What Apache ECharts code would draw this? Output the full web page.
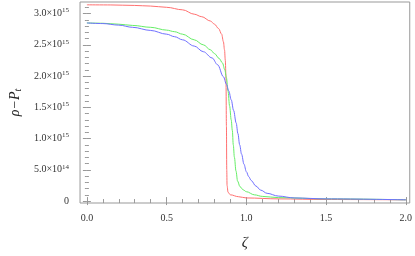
<!DOCTYPE html>
<html>
<head>
<meta charset="utf-8">
<script src="https://cdn.jsdelivr.net/npm/echarts@6/dist/echarts.min.js"></script>
<style>html,body{margin:0;padding:0;background:#fff}#c{width:415px;height:256px}</style>
</head>
<body>
<div id="c"></div>
<script>
// ---- data ----
const zetaRed = [0, 0.15, 0.3, 0.4, 0.5, 0.6, 0.673, 0.72, 0.775, 0.8, 0.826, 0.845, 0.856, 0.863, 0.868, 0.872, 0.875, 0.877, 0.879, 0.885, 0.9, 0.95, 1.0, 1.2, 1.5, 2.0];
const rhoRed  = [3.14e15, 3.138e15, 3.13e15, 3.12e15, 3.1e15, 3.06e15, 2.99e15, 2.95e15, 2.88e15, 2.83e15, 2.76e15, 2.67e15, 2.55e15, 2.42e15, 2.25e15, 2.0e15, 1.2e15, 0.5e15, 0.25e15, 0.14e15, 0.1e15, 0.07e15, 0.05e15, 0.035e15, 0.025e15, 0.02e15];

const zetaGreen = [0, 0.1, 0.2, 0.287, 0.4, 0.5, 0.55, 0.6, 0.673, 0.73, 0.775, 0.8, 0.83, 0.85, 0.865, 0.875, 0.885, 0.895, 0.905, 0.912, 0.918, 0.925, 0.935, 0.945, 0.96, 0.98, 1.0, 1.05, 1.1, 1.2, 1.5, 2.0];
const rhoGreen  = [2.85e15, 2.845e15, 2.83e15, 2.81e15, 2.78e15, 2.735e15, 2.71e15, 2.67e15, 2.58e15, 2.5e15, 2.42e15, 2.36e15, 2.28e15, 2.21e15, 2.1e15, 1.97e15, 1.76e15, 1.52e15, 1.3e15, 1.13e15, 0.9e15, 0.7e15, 0.48e15, 0.32e15, 0.23e15, 0.18e15, 0.15e15, 0.1e15, 0.075e15, 0.055e15, 0.035e15, 0.02e15];

const zetaBlue = [0, 0.1, 0.2, 0.287, 0.4, 0.5, 0.55, 0.6, 0.673, 0.73, 0.785, 0.82, 0.856, 0.875, 0.89, 0.905, 0.92, 0.936, 0.947, 0.958, 0.97, 0.985, 1.0, 1.015, 1.03, 1.06, 1.09, 1.13, 1.2, 1.3, 1.5, 2.0];
const rhoBlue  = [2.85e15, 2.84e15, 2.815e15, 2.78e15, 2.73e15, 2.67e15, 2.63e15, 2.58e15, 2.48e15, 2.39e15, 2.29e15, 2.18e15, 1.99e15, 1.87e15, 1.76e15, 1.62e15, 1.45e15, 1.25e15, 1.08e15, 0.9e15, 0.75e15, 0.59e15, 0.47e15, 0.39e15, 0.33e15, 0.24e15, 0.175e15, 0.124e15, 0.08e15, 0.05e15, 0.035e15, 0.02e15];

const xMajorTicks = [0, 0.5, 1.0, 1.5, 2.0];
const xMinorTicks = [0.1,0.2,0.3,0.4,0.6,0.7,0.8,0.9,1.1,1.2,1.3,1.4,1.6,1.7,1.8,1.9];
const yMajorTicks = [0, 5e14, 1e15, 1.5e15, 2e15, 2.5e15, 3e15];
const yMinorTicks = [1e14,2e14,3e14,4e14,6e14,7e14,8e14,9e14,11e14,12e14,13e14,14e14,16e14,17e14,18e14,19e14,21e14,22e14,23e14,24e14,26e14,27e14,28e14,29e14,31e14];

const xTitle = 'ζ';
const yTitleMain = 'ρ−P';
const yTitleSub = 't';

// ---- chart ----
const X_MIN = -0.043, X_MAX = 2.0245, Y_MIN = -0.031e15, Y_MAX = 3.185e15;
const FRAME = '#999';
const SERIF = '"Liberation Serif", "DejaVu Serif", serif';

function pairs(xs, ys){ return xs.map((x,i)=>[x, ys[i]]); }
function yLabel(v){
  if (v === 0) return '0';
  const e = Math.floor(Math.log10(v) + 1e-9);
  const m = (v / Math.pow(10, e)).toFixed(1);
  return '{m|' + m + '×10}{e|' + e + '}';
}

function xAx(pos, ticks, len, labels, extra){
  return Object.assign({
    type: 'value', position: pos, min: X_MIN, max: X_MAX,
    axisLine: {show: false}, splitLine: {show: false},
    axisTick: {show: true, inside: true, length: len, customValues: ticks, lineStyle: {color: FRAME, width: 1}},
    axisLabel: labels ? {show: true, customValues: ticks, margin: 10, fontFamily: SERIF, fontSize: 10, color: '#333',
      formatter: v => v.toFixed(1)} : {show: false}
  }, extra || {});
}
function yAx(pos, ticks, len, labels, extra){
  return Object.assign({
    type: 'value', position: pos, min: Y_MIN, max: Y_MAX,
    axisLine: {show: false}, splitLine: {show: false},
    axisTick: {show: true, inside: true, length: len, customValues: ticks, lineStyle: {color: FRAME, width: 1}},
    axisLabel: labels ? {show: true, customValues: ticks, margin: 11, fontFamily: SERIF, fontSize: 10, color: '#333',
      formatter: yLabel,
      rich: {
        m: {fontFamily: SERIF, fontSize: 10, color: '#333'},
        e: {fontFamily: SERIF, fontSize: 7, color: '#333', padding: [0, 0, 6, 0]}
      }} : {show: false}
  }, extra || {});
}

const lineCommon = {type: 'line', xAxisIndex: 0, yAxisIndex: 0, showSymbol: false, smooth: 0.35, smoothMonotone: 'x'};

const chart = echarts.init(document.getElementById('c'), null, {renderer: 'canvas'});
chart.setOption({
  animation: false,
  backgroundColor: '#fff',
  grid: {left: 73, right: 4, top: 2, bottom: 46, show: true, borderColor: FRAME, borderWidth: 1, backgroundColor: 'transparent'},
  xAxis: [
    xAx('bottom', xMajorTicks, 4, true, {
      name: xTitle, nameLocation: 'middle', nameGap: 33,
      nameTextStyle: {fontFamily: SERIF, fontSize: 15, fontStyle: 'italic', color: '#222'}
    }),
    xAx('bottom', xMinorTicks, 2, false),
    xAx('top', xMajorTicks, 4, false),
    xAx('top', xMinorTicks, 2, false)
  ],
  yAxis: [
    yAx('left', yMajorTicks, 4, true, {
      name: '{a|' + yTitleMain + '}{b|' + yTitleSub + '}', nameLocation: 'middle', nameGap: 54, nameRotate: 90,
      nameTextStyle: {fontFamily: SERIF, fontSize: 14, fontStyle: 'italic', color: '#222',
        rich: {
          a: {fontFamily: SERIF, fontSize: 14, fontStyle: 'italic', color: '#222'},
          b: {fontFamily: SERIF, fontSize: 10, fontStyle: 'italic', color: '#222', padding: [6, 0, 0, 0]}
        }}
    }),
    yAx('left', yMinorTicks, 2, false),
    yAx('right', yMajorTicks, 4, false),
    yAx('right', yMinorTicks, 2, false)
  ],
  series: [
    Object.assign({}, lineCommon, {data: pairs(zetaRed, rhoRed), lineStyle: {color: '#ff7070', width: 1}, itemStyle: {color: '#ff7070'}}),
    Object.assign({}, lineCommon, {data: pairs(zetaGreen, rhoGreen), lineStyle: {color: '#66ee66', width: 1}, itemStyle: {color: '#66ee66'}}),
    Object.assign({}, lineCommon, {data: pairs(zetaBlue, rhoBlue), lineStyle: {color: '#7070ff', width: 1}, itemStyle: {color: '#7070ff'}})
  ]
});
</script>
</body>
</html>
